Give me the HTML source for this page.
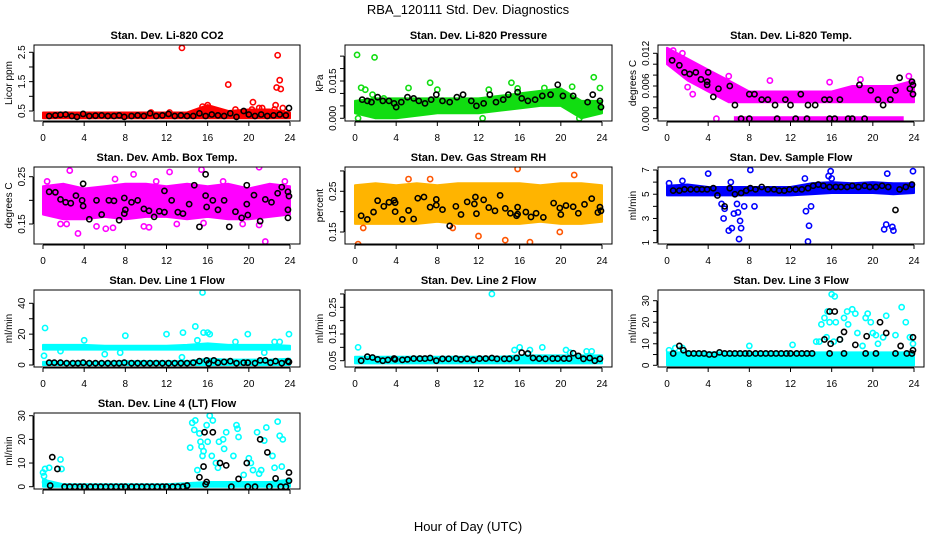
<!DOCTYPE html>
<html><head><meta charset="utf-8"><style>
html,body{margin:0;padding:0;background:#fff;}
svg{display:block;font-family:"Liberation Sans",sans-serif;}
</style></head><body>
<svg id="chart" width="936" height="540" viewBox="0 0 936 540" xmlns="http://www.w3.org/2000/svg">
<text x="468" y="14" text-anchor="middle" font-size="13">RBA_120111  Std. Dev. Diagnostics</text>
<text x="468" y="531" text-anchor="middle" font-size="13">Hour of Day (UTC)</text>
</svg>
<script>
// ---- data ----
const hourTicks = [0,4,8,12,16,20,24];
const bandKnots = [0,2,4,6,8,10,12,14,16,18,20,22,24];

const co2Lo = [0.25,0.25,0.25,0.25,0.25,0.25,0.25,0.25,0.25,0.25,0.25,0.25,0.25];
const co2Hi = [0.45,0.45,0.45,0.45,0.45,0.45,0.45,0.45,0.7,0.5,0.55,0.55,0.45];
const co2Pts = [[13.5,2.65],[22.8,2.4],[23,1.55],[22.7,1.3],[23.1,1.25],[18,1.4],[20.4,0.8],[15.5,0.65],[16,0.7],[20.3,0.55],[21,0.6],[21.3,0.6],[22.5,0.55],[22.6,0.7],[23.3,0.6],[18.7,0.55],[10.5,0.45],[12.3,0.45]];
const co2Blk = [[0.6,0.33],[1.2,0.35],[1.7,0.37],[2.2,0.38],[2.8,0.33],[3.3,0.3],[3.9,0.4],[4.5,0.33],[5.1,0.34],[5.7,0.35],[6.3,0.33],[6.9,0.33],[7.4,0.35],[7.9,0.3],[8.6,0.33],[9.2,0.35],[9.8,0.33],[10.4,0.42],[11,0.33],[11.6,0.35],[12.2,0.4],[12.8,0.33],[13.4,0.35],[14,0.33],[14.6,0.33],[15.2,0.42],[15.8,0.33],[16.4,0.38],[17,0.35],[17.6,0.33],[18.2,0.42],[18.8,0.3],[19.5,0.5],[20,0.38],[20.6,0.33],[21.2,0.38],[21.8,0.33],[22.4,0.35],[23,0.38],[23.6,0.35],[23.9,0.6]];

const presLo = [0.002,0.0,0.0,0.001,0.002,0.002,0.002,0.003,0.004,0.005,0.005,0.0,0.002];
const presHi = [0.007,0.008,0.008,0.008,0.008,0.008,0.008,0.009,0.010,0.011,0.012,0.007,0.007];
const presPts = [[0.2,0.0255],[1.9,0.0245],[0.6,0.0123],[1.0,0.0115],[1.7,0.0095],[5.2,0.0122],[7.3,0.0143],[8.0,0.0115],[15.2,0.0143],[15.8,0.012],[23.2,0.0165],[23.8,0.0122],[13,0.0115],[18.4,0.0122],[21.1,0.0127],[12.4,0.0],[2.8,0.008],[21.8,0.0],[0.3,0.0]];
const presBlk = [[0.7,0.0075],[1.2,0.007],[1.6,0.0065],[2.2,0.0085],[2.7,0.007],[3.3,0.007],[3.8,0.006],[4,0.0045],[4.5,0.0065],[5.1,0.0085],[5.7,0.008],[6.2,0.007],[6.8,0.006],[7.4,0.0075],[7.9,0.0095],[8.5,0.007],[9.2,0.0065],[9.9,0.0085],[10.5,0.0095],[11.3,0.007],[11.8,0.005],[12.5,0.006],[13.1,0.0095],[13.7,0.0065],[14.4,0.0075],[14.9,0.0095],[15.8,0.0105],[16.2,0.008],[16.8,0.007],[17.5,0.0075],[18.2,0.009],[19,0.0095],[19.7,0.0135],[20.2,0.009],[21.2,0.009],[22.6,0.0065],[23.1,0.0095],[23.8,0.007],[23.9,0.0045]];

const tempLo = [0.010,0.007,0.005,0.003,0.003,0.003,0.003,0.003,0.003,0.003,0.003,0.003,0.003];
const tempHi = [0.013,0.011,0.009,0.007,0.005,0.005,0.005,0.005,0.005,0.006,0.006,0.006,0.007];
const tempZeroRun = [6.5,23];
const tempPts = [[0.6,0.0125],[6,0.0078],[2.5,0.0045],[2,0.0058],[10,0.007],[15.8,0.0067],[18.8,0.0072],[23.5,0.0078],[4.8,0.0],[23.8,0.005],[1.5,0.012],[3.8,0.008]];
const tempBlk = [[0.5,0.0107],[1.2,0.0098],[1.7,0.0085],[2.2,0.0082],[2.8,0.0085],[3.3,0.0072],[3.9,0.0068],[3.9,0.0062],[4.0,0.0085],[4.5,0.004],[5,0.0055],[6.1,0.006],[6.6,0.0025],[7.2,0.0],[8,0.0045],[8.5,0.0045],[9.2,0.0035],[9.8,0.0035],[10.5,0.0025],[11.5,0.0035],[12,0.0025],[13,0.0045],[13.7,0.0025],[14.4,0.0025],[15.3,0.0035],[15.8,0.0035],[16.8,0.0035],[18,0.0],[18.7,0.0062],[19.8,0.0052],[20.5,0.0035],[21,0.0025],[21.7,0.0035],[22.2,0.0052],[22.6,0.0075],[23.6,0.0055],[23.9,0.0062],[23.8,0.0068],[23.9,0.0045],[8,0],[10.7,0],[12.5,0],[13.6,0],[15.8,0],[16.3,0],[17.6,0],[19.2,0]];

const ambLo = [0.17,0.16,0.16,0.165,0.16,0.165,0.165,0.16,0.165,0.16,0.16,0.165,0.17];
const ambHi = [0.23,0.235,0.225,0.23,0.235,0.235,0.23,0.235,0.23,0.235,0.225,0.235,0.23];
const ambPts = [[0.4,0.24],[2.6,0.263],[8.8,0.255],[12.3,0.26],[15.4,0.265],[21,0.27],[21.6,0.113],[3.4,0.13],[1.7,0.15],[2.3,0.15],[5.2,0.145],[6.1,0.14],[6.8,0.142],[9.8,0.145],[10.3,0.143],[13,0.15],[15.6,0.152],[19.4,0.15],[21,0.148],[23.5,0.24],[7,0.245],[11,0.24],[17.5,0.24]];
const ambBlk = [[0.6,0.218],[1.2,0.217],[1.7,0.202],[2.2,0.196],[2.7,0.194],[3.2,0.21],[3.8,0.2],[3.9,0.188],[3.9,0.235],[4.5,0.16],[5.2,0.2],[5.7,0.17],[6.4,0.2],[6.9,0.199],[7.4,0.158],[7.9,0.205],[7.9,0.172],[8.0,0.18],[8.6,0.196],[9.2,0.2],[9.8,0.182],[10.3,0.178],[10.8,0.165],[11.3,0.177],[11.8,0.22],[11.8,0.175],[12.5,0.2],[13.1,0.175],[13.6,0.172],[14.2,0.192],[14.7,0.232],[15.2,0.144],[15.8,0.21],[15.9,0.186],[15.8,0.255],[16.5,0.2],[17,0.18],[17.6,0.2],[18.1,0.144],[18.7,0.176],[19.3,0.163],[19.8,0.192],[19.8,0.232],[19.9,0.169],[20.5,0.211],[21.1,0.156],[21.6,0.202],[22.2,0.196],[22.8,0.215],[23.2,0.228],[23.8,0.218],[23.9,0.209],[23.8,0.18],[23.8,0.163]];

const rhLo = [0.17,0.17,0.17,0.17,0.175,0.17,0.17,0.17,0.17,0.175,0.17,0.17,0.175];
const rhHi = [0.265,0.27,0.265,0.27,0.265,0.27,0.27,0.27,0.27,0.265,0.27,0.27,0.265];
const rhPts = [[0.3,0.12],[5.2,0.28],[15.8,0.305],[17,0.125],[7.3,0.28],[0.8,0.16],[12,0.14],[14.6,0.13],[21.3,0.29],[19.9,0.15],[9.5,0.16]];
const rhBlk = [[0.6,0.19],[1.2,0.181],[1.8,0.199],[2.2,0.227],[2.8,0.213],[3.3,0.223],[3.8,0.228],[3.9,0.222],[3.9,0.2],[4.6,0.181],[5.2,0.203],[5.7,0.182],[6.1,0.233],[6.7,0.236],[7.3,0.211],[7.9,0.23],[7.9,0.216],[8.5,0.205],[9.2,0.165],[9.8,0.213],[10.3,0.193],[10.9,0.224],[11.6,0.219],[11.7,0.236],[11.8,0.195],[12.5,0.229],[13,0.21],[13.6,0.202],[14.1,0.24],[14.6,0.208],[15.1,0.196],[15.7,0.19],[15.8,0.194],[15.8,0.211],[16.6,0.199],[17.1,0.187],[17.6,0.196],[18.3,0.186],[19.3,0.221],[19.9,0.209],[20,0.193],[20.5,0.215],[21.2,0.212],[21.7,0.196],[22.3,0.218],[23,0.232],[23.6,0.198],[23.8,0.211],[23.9,0.202]];

const flowLo = [4.9,4.9,4.9,4.9,4.9,4.9,4.9,5.0,5.1,5.1,5.1,5.0,5.1];
const flowHi = [5.7,5.8,5.6,5.6,5.6,5.6,5.6,5.9,6.0,5.9,6.0,5.9,5.9];
const flowPts = [[0.2,5.9],[4,6.7],[8.1,7.0],[15.9,6.9],[23.9,6.9],[13.4,6.3],[15.7,6.5],[21.4,6.7],[5.3,4.2],[5.6,3.8],[5.5,3.0],[6,2.0],[6.3,2.2],[6.5,3.4],[6.9,3.5],[7.1,2.8],[7.2,2.2],[7,1.3],[13.5,3.6],[13.8,2.4],[13.7,1.1],[14,4.0],[21.1,2.1],[21.3,2.5],[21.9,2.3],[22,2.0],[7.5,4.0],[8.5,4.0],[6.8,4.2],[6.2,6.0],[1.5,6.1],[16,6.3]];
const flowBlk = [[0.6,5.3],[1.2,5.3],[1.7,5.4],[2.3,5.4],[2.9,5.4],[3.4,5.4],[3.9,5.4],[4.5,5.5],[4.9,4.9],[5.6,4.0],[6.1,5.5],[6.6,5.0],[7.2,5.1],[7.7,5.3],[8.1,5.5],[8.6,5.4],[9.2,5.6],[9.8,5.4],[10.4,5.4],[10.9,5.3],[11.4,5.3],[11.9,5.4],[12.5,5.4],[13.1,5.4],[13.7,5.5],[14.2,5.7],[14.7,5.8],[15.2,5.7],[15.8,5.6],[16.4,5.6],[16.9,5.6],[17.5,5.6],[18,5.7],[18.6,5.6],[19.2,5.7],[19.7,5.6],[20.3,5.6],[20.9,5.7],[21.5,5.6],[22.2,3.7],[22.6,5.4],[23.2,5.6],[23.8,5.8]];

const l1Lo = [10,10,10,10,10,10,10,10,10,10,10,10,10];
const l1Hi = [13,13,13,12.5,12.5,12.5,12.5,13,14,13,13,13,12.5];
const l1Lo2 = [0,0,0,0,0,0,0,0,0,0,0,0,0];
const l1Hi2 = [2,2,2,2,2.5,2.5,2.5,2.5,4,3.5,3.5,3.5,4];
const l1Pts = [[0.2,24],[0.1,6],[1.7,9],[4,16],[8,19],[12,20],[13.6,21],[14.8,25],[15.5,47],[15.6,21],[16,21],[19.9,20],[23.9,20],[15,16],[18.7,15],[22.5,15],[23,15],[6,7],[7.5,8],[21.5,8],[13.5,5],[16.2,20]];
const l1Blk = [[0.6,1.5],[1.1,1.5],[1.7,1.5],[2.3,1.2],[2.9,1.2],[3.4,1.2],[3.9,1.5],[4.5,1.2],[5.1,1.2],[5.7,1.2],[6.3,1.2],[6.9,1.2],[7.4,1.2],[7.9,1.5],[8.6,1.2],[9.2,1.2],[9.8,1.2],[10.4,1.2],[11,1.2],[11.6,1.2],[12.2,1.2],[12.8,1.2],[13.4,1.2],[14,1.2],[14.6,1.5],[15.2,2.5],[15.9,3],[16.1,1],[16.6,3],[17,1.5],[17.6,2],[18.2,2.5],[18.8,1.2],[19.5,1.5],[19.9,1.5],[20.6,1.2],[21.1,3],[21.6,3],[22.1,1.5],[22.6,2.5],[23.2,1.2],[23.8,2.5],[23.9,2]];

const l2Lo = [0.04,0.04,0.04,0.04,0.04,0.04,0.04,0.04,0.04,0.04,0.04,0.04,0.04];
const l2Hi = [0.065,0.065,0.065,0.065,0.065,0.065,0.065,0.065,0.07,0.07,0.07,0.07,0.07];
const l2Pts = [[13.3,0.30],[0.3,0.1],[15.5,0.09],[16,0.1],[17,0.09],[20.5,0.09],[22.5,0.085],[18.2,0.1],[23,0.085],[20.9,0.08]];
const l2Blk = [[0.6,0.05],[1.2,0.065],[1.7,0.062],[2.2,0.055],[2.7,0.05],[3.2,0.053],[3.8,0.058],[3.9,0.055],[4.6,0.053],[5.1,0.055],[5.7,0.058],[6.3,0.058],[6.8,0.058],[7.3,0.06],[7.9,0.05],[8.5,0.057],[9.1,0.057],[9.8,0.058],[10.3,0.055],[10.9,0.057],[11.5,0.053],[12.1,0.058],[12.7,0.058],[13.3,0.06],[13.8,0.057],[14.5,0.057],[15,0.057],[15.7,0.06],[16.2,0.08],[16.8,0.077],[17.3,0.06],[17.9,0.058],[18.5,0.057],[19.2,0.058],[19.7,0.058],[20.3,0.058],[20.8,0.058],[21.2,0.078],[21.7,0.068],[22.2,0.057],[22.8,0.06],[23.3,0.05],[23.8,0.057]];

const l3Lo = [0,0,0,0,0,0,0,0,0,0,0,0,0];
const l3Hi = [6,6,6,6,6,6,6,6,6,6,6,6,6];
const l3Pts = [[16,33],[16.3,32],[15.6,25],[15.3,22],[15.8,20],[16.4,20],[15,19],[14.8,11],[15.5,13],[16.2,11],[16.8,12],[17.2,22],[17.5,25],[18,26],[18.3,24],[17.6,19],[19.5,24],[19.3,22],[19.8,20],[20,15],[20.3,14],[20.5,10],[21,13],[21.3,23],[22.2,14],[22.8,27],[23.2,20],[23.6,13],[23.9,10],[0.2,7],[0.8,8],[1.5,8],[8,9],[12.2,9.5],[14.5,11],[18.5,15],[19,9],[16,2]];
const l3Blk = [[0.6,5.5],[1.2,9],[1.6,7],[2.1,5.5],[2.6,5.5],[3.1,5.5],[3.6,5.5],[4.1,5],[4.6,5],[5.1,6],[5.6,5.5],[6.1,5.5],[6.6,5.5],[7.1,5.5],[7.6,5.5],[8,5.5],[8.6,5.5],[9.1,5.5],[9.6,5.5],[10.1,5.5],[10.6,5.5],[11.1,5.5],[11.6,5.5],[12,5.5],[12.6,5.5],[13.1,5.5],[13.6,5.5],[14.1,5.5],[15.3,12],[15.8,25],[15.9,10],[15.8,5.5],[16.3,25],[16.8,12],[17.2,15.5],[17.2,5.5],[18.3,9.5],[19.4,13.5],[19.3,5.5],[20.3,5.5],[20.7,20],[21.3,15],[22.2,5.5],[22.7,9],[23.3,5.5],[23.9,13],[23.9,7],[23.8,5.5]];

const l4Lo = [0,0,0,0,0,0,0,0,0,0,0,0,0];
const l4Hi = [3,1,1,1,1,1,1,1.5,2,2,2,2,3];
const l4Pts = [[0,6],[0.1,4.5],[0.2,7.5],[0.6,8],[1.7,11.5],[1.8,7.5],[0.2,2],[14.3,16.5],[14.5,27],[14.8,28],[14.7,24],[15.2,22.5],[15.3,19],[15.4,17],[15.5,13],[15.6,15],[15.9,26],[16,19],[16.2,30],[16.5,28],[16.4,13],[16.8,10],[17.1,19],[17.5,20],[17.6,16],[17.8,23],[18.5,13],[18.8,26],[18.9,24.5],[19,21],[20,12],[20.2,10],[20.4,7],[20.8,23],[21.2,7],[21.5,19.5],[21.7,25],[22.3,13],[22.5,8],[22.8,27.5],[23,21.5],[23.3,20],[23.2,8.5],[17,8],[15,7],[19.5,5],[21,5.5]];
const l4Blk = [[0.7,0.5],[0.9,12.5],[1.4,7.5],[2.1,0],[2.6,0],[3.1,0],[3.6,0],[4,0],[4.6,0],[5.1,0],[5.6,0],[6.1,0],[6.6,0],[7.1,0],[7.6,0],[8,0],[8.6,0],[9.1,0],[9.6,0],[10.1,0],[10.6,0],[11.1,0],[11.6,0],[12,0],[12.6,0],[13.1,0],[13.6,0],[14,0.5],[15.2,4],[15.6,8.5],[15.7,23],[15.9,2],[15.8,1],[16.5,23],[17.2,10],[17.8,9],[18.3,0],[19,3.3],[19.8,10],[19.9,0],[20.6,0],[21.1,20],[21.8,14.5],[22,0],[22.6,3.5],[23.1,0],[23.6,0],[23.9,6],[23.9,2.5]];

// ---- layout ----
const cols=[{l:34,r:300,x0:43,x24:290},{l:345,r:612,x0:355,x24:602},{l:658,r:924,x0:667,x24:914}];
const rows=[{t:45,b:121},{t:167,b:244},{t:290,b:367},{t:413,b:489}];
const panels=[
 {name:'co2',title:'Stan. Dev. Li-820 CO2',yl:'Licor ppm',c:0,r:0,col:'#ff0000',ref:[0.5,111,2.5,52.3],ticks:[0.5,1,1.5,2,2.5],labs:['0.5','1.5','2.5'],lo:co2Lo,hi:co2Hi,pts:co2Pts,blk:co2Blk},
 {name:'pressure',title:'Stan. Dev. Li-820 Pressure',yl:'kPa',c:1,r:0,col:'#11dd11',ref:[0,118.3,0.015,81],ticks:[0,0.005,0.01,0.015,0.02,0.025],labs:['0.000','0.015'],lo:presLo,hi:presHi,pts:presPts,blk:presBlk},
 {name:'li820-temp',title:'Stan. Dev. Li-820 Temp.',yl:'degrees C',c:2,r:0,col:'#ff00ff',ref:[0,118.7,0.012,53.3],ticks:[0,0.002,0.004,0.006,0.008,0.01,0.012],labs:['0.000','0.006','0.012'],lo:tempLo,hi:tempHi,pts:tempPts,blk:tempBlk,zero:tempZeroRun},
 {name:'amb-box-temp',title:'Stan. Dev. Amb. Box Temp.',yl:'degrees C',c:0,r:1,col:'#ff00ff',ref:[0.15,224,0.25,176.7],ticks:[0.15,0.2,0.25],labs:['0.15','0.25'],lo:ambLo,hi:ambHi,pts:ambPts,blk:ambBlk},
 {name:'gas-stream-rh',title:'Stan. Dev. Gas Stream RH',yl:'percent',c:1,r:1,col:'#ffb400',bandStroke:'#ffb400',stroke:'#ff5500',ref:[0.15,232,0.25,191.3],ticks:[0.15,0.2,0.25,0.3],labs:['0.15','0.25'],lo:rhLo,hi:rhHi,pts:rhPts,blk:rhBlk},
 {name:'sample-flow',title:'Stan. Dev. Sample Flow',yl:'ml/min',c:2,r:1,col:'#0000ff',ref:[1,242.7,7,170],ticks:[1,2,3,4,5,6,7],labs:['1','3','5','7'],lo:flowLo,hi:flowHi,pts:flowPts,blk:flowBlk},
 {name:'line1-flow',title:'Stan. Dev. Line 1 Flow',yl:'ml/min',c:0,r:2,col:'#00ffff',ref:[0,365,40,303.3],ticks:[0,10,20,30,40],labs:['0','20','40'],lo:l1Lo,hi:l1Hi,lo2:l1Lo2,hi2:l1Hi2,pts:l1Pts,blk:l1Blk},
 {name:'line2-flow',title:'Stan. Dev. Line 2 Flow',yl:'ml/min',c:1,r:2,col:'#00ffff',ref:[0.05,360.7,0.25,307.3],ticks:[0.05,0.1,0.15,0.2,0.25,0.3],labs:['0.05','0.15','0.25'],lo:l2Lo,hi:l2Hi,pts:l2Pts,blk:l2Blk},
 {name:'line3-flow',title:'Stan. Dev. Line 3 Flow',yl:'ml/min',c:2,r:2,col:'#00ffff',ref:[0,365.3,30,300.7],ticks:[0,5,10,15,20,25,30],labs:['0','10','20','30'],lo:l3Lo,hi:l3Hi,pts:l3Pts,blk:l3Blk},
 {name:'line4-flow',title:'Stan. Dev. Line 4 (LT) Flow',yl:'ml/min',c:0,r:3,col:'#00ffff',ref:[0,486.7,30,415.7],ticks:[0,10,20,30],labs:['0','10','20','30'],lo:l4Lo,hi:l4Hi,pts:l4Pts,blk:l4Blk}
];
const NS='http://www.w3.org/2000/svg';
const svg=document.getElementById('chart');
function mk(tag,attrs,parent){const e=document.createElementNS(NS,tag);for(const k in attrs)e.setAttribute(k,attrs[k]);(parent||svg).appendChild(e);return e;}
panels.forEach(p=>{
 const C=cols[p.c],R=rows[p.r];
 const g=mk('g',{});
 
 
 const xs=h=>C.x0+(C.x24-C.x0)*h/24;
 const ys=v=>p.ref[1]+(v-p.ref[0])*(p.ref[3]-p.ref[1])/(p.ref[2]-p.ref[0]);
 const clip='clip-'+p.name;
 const cp=mk('clipPath',{id:clip},g);mk('rect',{x:C.l,y:R.t,width:C.r-C.l,height:R.b-R.t},cp);
 const data=mk('g',{'clip-path':'url(#'+clip+')'},g);
 const stroke=p.stroke||p.col;
 const bStroke=p.bandStroke||stroke;
 function band(lo,hi){
  let d='M'+bandKnots.map((h,i)=>xs(h).toFixed(1)+','+ys(hi[i]).toFixed(1)).join('L');
  d+='L'+bandKnots.slice().reverse().map((h,j)=>{const i=bandKnots.length-1-j;return xs(h).toFixed(1)+','+ys(lo[i]).toFixed(1);}).join('L')+'Z';
  const b=mk('path',{d:d,fill:p.col,stroke:bStroke,'stroke-width':2,'stroke-linejoin':'round'},data);
  
  
 }
 band(p.lo,p.hi);
 if(p.lo2)band(p.lo2,p.hi2);
 if(p.zero){const z=mk('line',{x1:xs(p.zero[0]),x2:xs(p.zero[1]),y1:ys(0),y2:ys(0),stroke:p.col,'stroke-width':5},data);
  
  }
 p.pts.forEach(q=>{const c=mk('circle',{cx:xs(q[0]),cy:ys(q[1]),r:2.6,fill:'none',stroke:stroke,'stroke-width':1.6},data);
  
  });
 p.blk.forEach(q=>{const c=mk('circle',{cx:xs(q[0]),cy:ys(q[1]),r:2.6,fill:'none',stroke:'#000','stroke-width':1.6},data);
  
  });
 const box=mk('rect',{x:C.l,y:R.t,width:C.r-C.l,height:R.b-R.t,fill:'none',stroke:'#000','stroke-width':1},g);
 
 
 const t=mk('text',{x:(C.l+C.r)/2,y:R.t-6,'text-anchor':'middle','font-size':11,'font-weight':'bold'},g);t.textContent=p.title;
 
 
 const xa=mk('g',{},g);
 
 
 mk('line',{x1:xs(0),x2:xs(24),y1:R.b+1,y2:R.b+1,stroke:'#000'},xa);
 hourTicks.forEach(h=>{mk('line',{x1:xs(h),x2:xs(h),y1:R.b+1,y2:R.b+5,stroke:'#000'},xa);
  if(p.r<3){const l=mk('text',{x:xs(h),y:R.b+20,'text-anchor':'middle','font-size':10},xa);l.textContent=h;}});
 const ya=mk('g',{},g);
 
 
 const yt=p.ticks;
 mk('line',{x1:C.l-1,x2:C.l-1,y1:ys(yt[0]),y2:ys(yt[yt.length-1]),stroke:'#000'},ya);
 yt.forEach(v=>mk('line',{x1:C.l-5,x2:C.l-1,y1:ys(v),y2:ys(v),stroke:'#000'},ya));
 p.labs.forEach(s=>{const v=parseFloat(s),X=C.l-9,Y=ys(v);const l=mk('text',{x:X,y:Y,'text-anchor':'middle','font-size':10,transform:'rotate(-90 '+X+' '+Y+')'},ya);l.textContent=s;});
 const X=C.l-22,Y=(R.t+R.b)/2;
 const yl=mk('text',{x:X,y:Y,'text-anchor':'middle','font-size':10,transform:'rotate(-90 '+X+' '+Y+')'},g);yl.textContent=p.yl;
 
 
});
</script>
</body></html>
